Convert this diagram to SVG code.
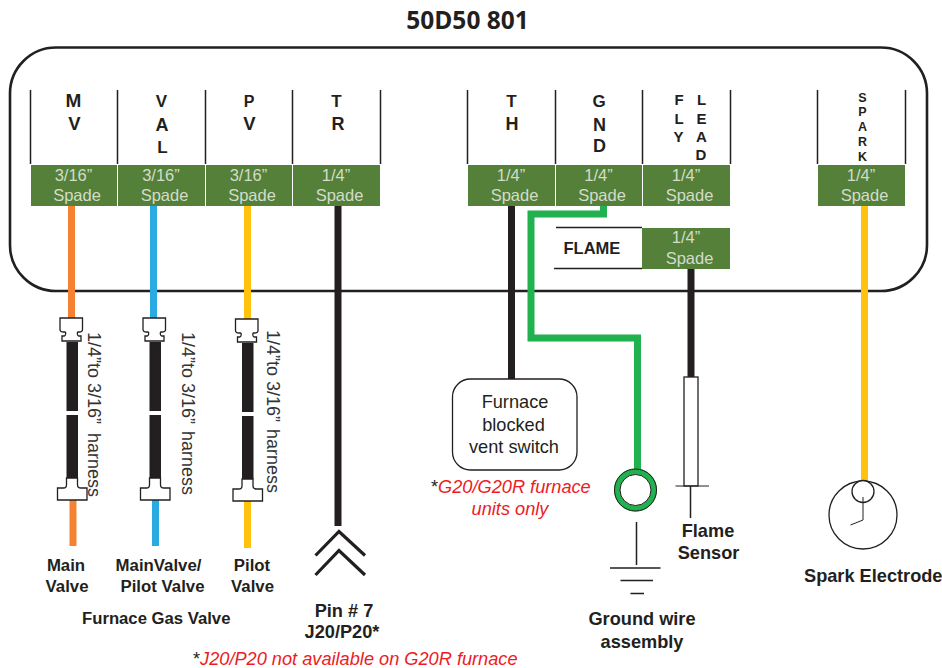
<svg xmlns="http://www.w3.org/2000/svg" width="942" height="668" viewBox="0 0 942 668">
<style>
text{font-family:"Liberation Sans",Arial,sans-serif;fill:#231f20}
.b{font-weight:700}
.c{text-anchor:middle}
.s{font-size:16.5px;fill:#d3dccb;text-anchor:middle}
.g{fill:#548039}
.t{stroke:#231f20;stroke-width:1.5;fill:none}
.w{fill:none;stroke-width:7}
.l{font-size:15px;font-weight:700}
.h{font-size:18px;fill:#333}
.r{fill:#ed1c24;font-style:italic;font-size:18.2px}
.n{font-size:18.2px;font-weight:700;text-anchor:middle}
.m{font-size:16.8px;font-weight:700;text-anchor:middle}
.cap{fill:#fff;stroke:#231f20;stroke-width:1.3}
.k{fill:#231f20}
</style>
<defs>
<g id="harness">
<path class="cap" d="M0 0H22.500V11.500C22.500 13.500 21 14 19 14H18C17 14 17 17.500 18.500 18H21V23H2V18H4.500C6 17.500 6 14 5 14H3.500C1.500 14 0 13.500 0 11.500Z"/>
<rect class="k" x="6.500" y="24" width="11.500" height="69"/>
<rect class="k" x="6.500" y="97" width="11.500" height="63"/>
<path class="cap" d="M6.500 160H17.500V167C17.500 169 19 170 21 170H27V182H-2.500V170H3.500C5.500 170 6.500 169 6.500 167Z"/>
</g>
</defs>
<rect id="frame" x="10" y="47.500" width="917" height="243.500" rx="46" ry="46" fill="none" stroke="#231f20" stroke-width="2.600"/>
<text id="title" x="467.500" y="29" text-anchor="middle" font-size="24.500" font-weight="700" style="font-family:'Open Sans',sans-serif">50D50 801</text>
<g id="connectors">
<path class="w" stroke="#f58233" d="M71.500 206V320M73 500V546"/>
<path class="w" stroke="#29abe2" d="M153.500 206V320M155.500 499V546"/>
<path class="w" stroke="#ffc20e" d="M247.500 206V320M247.500 501V548"/>
<path class="w" stroke="#231f20" d="M338 206V526"/>
<path class="w" stroke="#231f20" d="M511.500 206V380"/>
<path class="w" stroke="#231f20" d="M691 269V377"/>
<path class="w" stroke="#22b14f" stroke-width="6.500" d="M603.500 206V214H531V338H637.500V470"/>
<path class="w" stroke="#ffc20e" d="M864.500 206V481"/>
</g>
<g id="col-mv"><path class="t" d="M30.500 90V164M117.500 90V164"/><text class="b c" font-size="19" x="73.500" y="107">M</text><text class="b c" font-size="18.500" x="74.500" y="130">V</text><rect class="g" x="31" y="165" width="86" height="41"/><text class="s" x="73.500" y="181">3/16”</text><text class="s" x="77" y="201">Spade</text></g>
<g id="col-val"><path class="t" d="M205.500 90V164"/><text class="b c" font-size="17" x="161.500" y="107">V</text><text class="b c" font-size="18" x="162" y="131">A</text><text class="b c" font-size="17" x="162.500" y="153">L</text><rect class="g" x="118" y="165" width="87" height="41"/><text class="s" x="161" y="181">3/16”</text><text class="s" x="164.500" y="201">Spade</text></g>
<g id="col-pv"><path class="t" d="M292.500 90V164"/><text class="b c" font-size="16" x="249" y="107">P</text><text class="b c" font-size="18.500" x="249.500" y="130">V</text><rect class="g" x="206" y="165" width="86" height="41"/><text class="s" x="248.500" y="181">3/16”</text><text class="s" x="252" y="201">Spade</text></g>
<g id="col-tr"><path class="t" d="M380.500 90V164"/><text class="b c" font-size="17" x="336.500" y="107">T</text><text class="b c" font-size="18" x="338" y="130">R</text><rect class="g" x="293" y="165" width="87" height="41"/><text class="s" x="336" y="181">1/4”</text><text class="s" x="339.500" y="201">Spade</text></g>
<g id="col-th"><path class="t" d="M467.500 90V164M555.500 90V164"/><text class="b c" font-size="17" x="511.500" y="107">T</text><text class="b c" font-size="18" x="512" y="130">H</text><rect class="g" x="468" y="165" width="87" height="41"/><text class="s" x="511" y="181">1/4”</text><text class="s" x="514.500" y="201">Spade</text></g>
<g id="col-gnd"><path class="t" d="M642.500 90V164"/><text class="b c" font-size="17" x="599" y="107">G</text><text class="b c" font-size="18" x="599.500" y="131">N</text><text class="b c" font-size="18" x="599.500" y="152">D</text><rect class="g" x="556" y="165" width="86" height="41"/><text class="s" x="598.500" y="181">1/4”</text><text class="s" x="602" y="201">Spade</text></g>
<g id="col-fly"><path class="t" d="M730.500 90V164"/><text class="l c" x="679" y="105">F</text><text class="l c" x="679" y="124">L</text><text class="l c" x="678.500" y="142">Y</text><text class="l c" x="701.500" y="105">L</text><text class="l c" x="701.500" y="124">E</text><text class="l c" x="701.500" y="142">A</text><text class="l c" x="701" y="160">D</text><rect class="g" x="643" y="165" width="87" height="41"/><text class="s" x="686" y="181">1/4”</text><text class="s" x="689.500" y="201">Spade</text></g>
<g id="col-spark"><path class="t" d="M817.500 90V164M905.500 90V164"/><g class="b c" font-size="12.500"><text x="862.500" y="102">S</text><text x="862.500" y="116">P</text><text x="862.500" y="131">A</text><text x="862.500" y="146">R</text><text x="862.500" y="161">K</text></g><rect class="g" x="818" y="165" width="87" height="41"/><text class="s" x="861" y="181">1/4”</text><text class="s" x="864.500" y="201">Spade</text></g>
<g id="flame"><path class="t" d="M556 227.500H642M554 268.500H642"/><text class="b" font-size="16.500" x="563.500" y="254">FLAME</text><rect class="g" x="642" y="228" width="88" height="41"/><text class="s" x="686" y="243">1/4”</text><text class="s" x="689.500" y="264">Spade</text></g>
<g id="harness-main"><use href="#harness" x="60" y="318"/><text class="h" transform="translate(88 332) rotate(90)">1/4”to 3/16”<tspan x="101">harness</tspan></text><text class="m" x="66" y="571">Main</text><text class="m" x="67" y="592">Valve</text></g>
<g id="harness-val"><use href="#harness" x="143" y="318"/><text class="h" transform="translate(182 332) rotate(90)">1/4”to 3/16”<tspan x="99">harness</tspan></text><text class="m" x="158.500" y="571">MainValve/</text><text class="m" x="162.500" y="592">Pilot Valve</text></g>
<g id="harness-pilot"><use href="#harness" x="235.500" y="319"/><text class="h" transform="translate(267 330) rotate(90)">1/4”to 3/16”<tspan x="99">harness</tspan></text><text class="m" x="252" y="571">Pilot</text><text class="m" x="252.500" y="592">Valve</text></g>
<text id="gas-valve" class="b" font-size="16.700" x="82" y="624">Furnace Gas Valve</text>
<g id="pin7"><path d="M315.500 555.500L339 531.500L365 555.500M315.500 575L339 550.500L365 575" fill="none" stroke="#231f20" stroke-width="3.200"/><text class="n" x="344" y="617">Pin # 7</text><text class="n" x="342" y="638">J20/P20*</text></g>
<g id="vent-switch"><rect x="452.500" y="379" width="124.500" height="91" rx="18" fill="#fff" stroke="#231f20" stroke-width="1.300"/><g font-size="18.200" class="c"><text x="515" y="408">Furnace</text><text x="513.500" y="431">blocked</text><text x="514" y="453">vent switch</text></g></g>
<text id="note-g20" x="431" y="493" font-size="18.200">*<tspan class="r">G20/G20R furnace</tspan></text>
<text id="note-units" class="r c" x="510" y="515">units only</text>
<g id="ground"><circle cx="635.500" cy="490" r="18.500" fill="#fff" stroke="#22b14f" stroke-width="6"/><circle cx="635.500" cy="490" r="21" fill="none" stroke="#231f20" stroke-width="1"/><circle cx="635.500" cy="490" r="15.500" fill="none" stroke="#231f20" stroke-width="1"/><path class="t" d="M636.500 522V565M610 568H660.500M620.500 580.500H653M630.500 593.500H644"/><text class="n" x="642" y="625">Ground wire</text><text class="n" x="642" y="648">assembly</text></g>
<g id="flame-sensor"><rect x="684" y="377" width="14" height="109" fill="#fff" stroke="#231f20" stroke-width="1.300"/><path stroke="#231f20" d="M675.500 486H709" stroke-width="1"/><path class="t" d="M690.500 486V518"/><text class="n" x="708" y="536.500">Flame</text><text class="n" x="708.500" y="558.500">Sensor</text></g>
<g id="spark-electrode"><circle cx="863" cy="515" r="34" fill="#fff" stroke="#231f20" stroke-width="1.300"/><circle cx="863" cy="491.500" r="11" fill="#fff" stroke="#231f20" stroke-width="1.300"/><path d="M863 497V520L850.500 525" fill="none" stroke="#231f20" stroke-width="1"/><text class="b" font-size="18.200" x="804" y="582">Spark Electrode</text></g>
<text id="note-j20" x="193" y="665" font-size="18.200">*<tspan class="r">J20/P20 not available on G20R furnace</tspan></text>
</svg>
